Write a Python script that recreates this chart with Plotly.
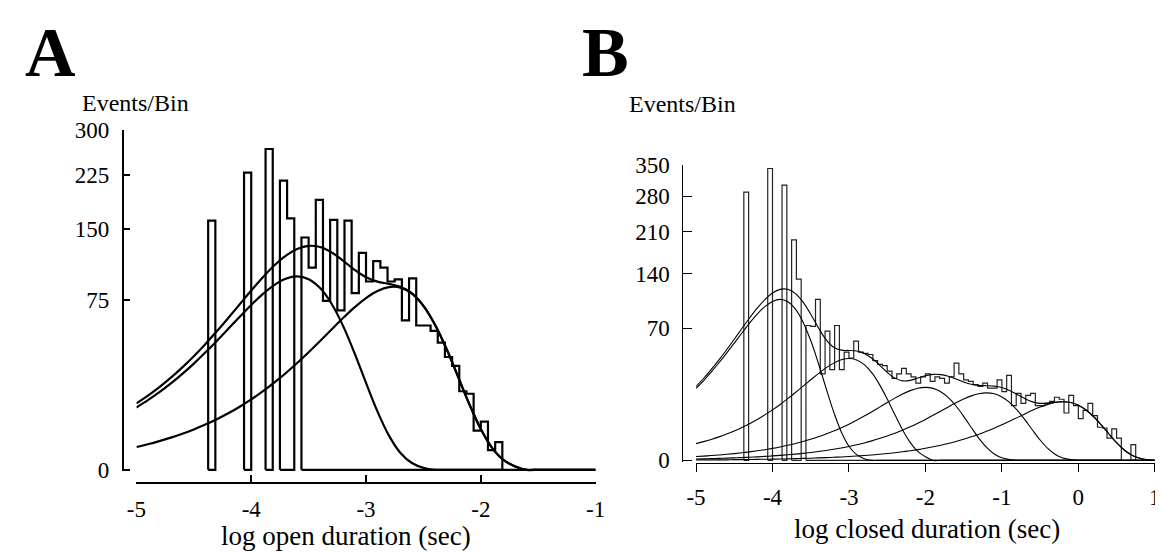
import numpy as np
import plotly.graph_objects as go

W, H = 1163, 552
SERIF = "Liberation Serif"
BIN_WIDTH = 1 / 16  # histogram bins are 1/16 of a decade

# ---- A: open durations -------------------------------------------------
open_first_bin = -4.375
open_counts = [161, 0, 0, 0, 0, 229, 0, 0, 267, 0, 217, 164, 0,
               140, 106, 189, 74, 162, 66, 161, 81, 122, 92, 113, 106,
               92, 94, 58, 95, 54, 54, 50, 42, 33, 28, 16, 15, 4, 6, 1, 2]

open_fit_x = [-5.0, -4.9, -4.8, -4.7, -4.6, -4.5, -4.4, -4.3, -4.2, -4.1,
              -4.0, -3.9, -3.8, -3.7, -3.6, -3.5, -3.4, -3.3, -3.2, -3.1,
              -3.0, -2.9, -2.8, -2.7, -2.6, -2.5, -2.4, -2.3, -2.2, -2.1,
              -2.0, -1.9, -1.8, -1.7, -1.6, -1.5, -1.4, -1.3, -1.2, -1.1, -1.0]
open_fast = [10.09, 12.57, 15.62, 19.34, 23.86, 29.27, 35.67, 43.10, 51.53, 60.77,
             70.50, 80.06, 88.51, 94.62, 97.00, 94.26, 85.66, 71.53, 53.73, 35.31,
             19.59, 8.80, 3.03, 0.74, 0.12, 0.01, 0, 0, 0, 0,
             0, 0, 0, 0, 0, 0, 0, 0, 0, 0, 0]
open_slow = [1.35, 1.70, 2.14, 2.68, 3.37, 4.23, 5.30, 6.63, 8.28, 10.33,
             12.85, 15.93, 19.69, 24.20, 29.58, 35.88, 43.08, 51.12, 59.72, 68.44,
             76.54, 83.02, 86.64, 86.14, 80.55, 69.76, 54.81, 38.14, 22.75, 11.19,
             4.31, 1.22, 0.24, 0.03, 0, 0, 0, 0, 0, 0, 0]
open_total = [11.44, 14.27, 17.76, 22.02, 27.23, 33.50, 40.97, 49.73, 59.81, 71.10,
              83.35, 95.99, 108.20, 118.82, 126.58, 130.14, 128.74, 122.65, 113.45, 103.75,
              96.13, 91.82, 89.67, 86.88, 80.67, 69.77, 54.81, 38.14, 22.75, 11.19,
              4.31, 1.22, 0.24, 0.03, 0, 0, 0, 0, 0, 0, 0]
open_xticks = [-5, -4, -3, -2, -1]
open_yticks = [0, 75, 150, 225, 300]

# ---- B: closed durations -----------------------------------------------
closed_first_bin = -4.375
closed_counts = [289, 0, 0, 0, 0, 342, 0, 0, 304, 0, 195, 132, 0,
                 73, 72, 104, 30, 67, 33, 73, 33, 47, 42, 57, 47, 46, 45, 40, 37,
                 36, 32, 27, 30, 34, 30, 28, 24, 28, 30, 25, 28, 27, 24, 28, 38,
                 30, 26, 25, 23, 22, 24, 21, 21, 26, 19, 29, 12, 18, 13, 17, 18,
                 12, 12, 13, 14, 16, 15, 9, 17, 12, 7, 10, 13, 8, 4.4, 4.2, 2, 4,
                 2, 0, 0, 1]

closed_fit_x = [-5.0, -4.9, -4.8, -4.7, -4.6, -4.5, -4.4, -4.3, -4.2, -4.1,
                -4.0, -3.9, -3.8, -3.7, -3.6, -3.5, -3.4, -3.3, -3.2, -3.1,
                -3.0, -2.9, -2.8, -2.7, -2.6, -2.5, -2.4, -2.3, -2.2, -2.1,
                -2.0, -1.9, -1.8, -1.7, -1.6, -1.5, -1.4, -1.3, -1.2, -1.1,
                -1.0, -0.9, -0.8, -0.7, -0.6, -0.5, -0.4, -0.3, -0.2, -0.1,
                0.0, 0.1, 0.2, 0.3, 0.4, 0.5, 0.6, 0.7, 0.8, 0.9, 1.0]
closed_c1 = [20.74, 25.58, 31.39, 38.24, 46.21, 55.24, 65.16, 75.59, 85.84, 94.90,
             101.45, 104.00, 101.07, 91.84, 76.69, 57.61, 37.86, 21.01, 9.43, 3.24,
             0.80, 0.13, 0.01, 0, 0, 0, 0, 0, 0, 0,
             0, 0, 0, 0, 0, 0, 0, 0, 0, 0,
             0, 0, 0, 0, 0, 0, 0, 0, 0, 0,
             0, 0, 0, 0, 0, 0, 0, 0, 0, 0, 0]
closed_c2 = [1.12, 1.41, 1.76, 2.21, 2.77, 3.46, 4.33, 5.39, 6.70, 8.30,
             10.23, 12.55, 15.30, 18.48, 22.10, 26.06, 30.23, 34.34, 37.96, 40.58,
             41.60, 40.43, 36.74, 30.68, 23.04, 15.14, 8.40, 3.77, 1.30, 0.32,
             0.05, 0, 0, 0, 0, 0, 0, 0, 0, 0,
             0, 0, 0, 0, 0, 0, 0, 0, 0, 0,
             0, 0, 0, 0, 0, 0, 0, 0, 0, 0, 0]
closed_c3 = [0.058, 0.073, 0.092, 0.116, 0.146, 0.183, 0.231, 0.290, 0.365, 0.458,
             0.576, 0.723, 0.908, 1.138, 1.425, 1.782, 2.226, 2.773, 3.445, 4.267,
             5.264, 6.459, 7.869, 9.508, 11.368, 13.407, 15.554, 17.664, 19.528, 20.876,
             21.40, 20.797, 18.898, 15.780, 11.853, 7.790, 4.323, 1.941, 0.668, 0.164,
             0.026, 0.003, 0, 0, 0, 0, 0, 0, 0, 0,
             0, 0, 0, 0, 0, 0, 0, 0, 0, 0, 0]
closed_c4 = [0.008, 0.010, 0.013, 0.016, 0.020, 0.025, 0.031, 0.040, 0.050, 0.063,
             0.079, 0.099, 0.125, 0.157, 0.197, 0.248, 0.312, 0.392, 0.493, 0.618,
             0.776, 0.973, 1.219, 1.524, 1.903, 2.372, 2.946, 3.649, 4.502, 5.523,
             6.729, 8.131, 9.721, 11.465, 13.300, 15.105, 16.699, 17.852, 18.30, 17.784,
             16.161, 13.494, 10.136, 6.661, 3.697, 1.660, 0.571, 0.140, 0.023, 0.002,
             0, 0, 0, 0, 0, 0, 0, 0, 0, 0, 0]
closed_c5 = [0.001, 0.001, 0.001, 0.001, 0.001, 0.002, 0.002, 0.003, 0.004, 0.005,
             0.006, 0.007, 0.009, 0.012, 0.015, 0.019, 0.024, 0.030, 0.038, 0.047,
             0.059, 0.075, 0.094, 0.118, 0.149, 0.187, 0.235, 0.296, 0.371, 0.466,
             0.585, 0.734, 0.919, 1.149, 1.435, 1.789, 2.222, 2.752, 3.395, 4.165,
             5.074, 6.131, 7.331, 8.646, 10.030, 11.391, 12.593, 13.462, 13.80, 13.411,
             12.187, 10.176, 7.644, 5.023, 2.788, 1.252, 0.431, 0.106, 0.017, 0.002, 0.0]
closed_total = [21.93, 27.07, 33.26, 40.58, 49.15, 58.91, 69.75, 81.31, 92.96, 103.73,
                112.34, 117.38, 117.41, 111.63, 100.43, 85.72, 70.65, 58.55, 51.37, 48.75,
                48.50, 48.07, 45.93, 41.83, 36.46, 31.11, 27.14, 25.38, 25.70, 27.19,
                28.76, 29.66, 29.54, 28.39, 26.59, 24.68, 23.24, 22.55, 22.36, 22.11,
                21.26, 19.63, 17.47, 15.31, 13.73, 13.05, 13.16, 13.60, 13.82, 13.41,
                12.19, 10.18, 7.64, 5.02, 2.79, 1.25, 0.43, 0.11, 0.02, 0.0, 0.0]
closed_xticks = [-5, -4, -3, -2, -1, 0, 1]
closed_yticks = [0, 70, 140, 210, 280, 350]


def sq(values):
    # square-root ordinate, as in the original log-binned histograms
    return [None if v is None else float(np.sqrt(v)) for v in values]


def outline(first_bin, counts):
    """Step outline of each run of non-empty bins, closed along zero."""
    xs, ys = [], []
    n = len(counts)
    i = 0
    while i < n:
        if counts[i] == 0:
            i += 1
            continue
        j = i
        while j < n and counts[j] > 0:
            j += 1
        left = first_bin + i * BIN_WIDTH
        xs.append(left)
        ys.append(0)
        for k in range(i, j):
            lo = first_bin + k * BIN_WIDTH
            xs += [lo, lo + BIN_WIDTH]
            ys += [counts[k], counts[k]]
        xs += [first_bin + j * BIN_WIDTH, left, None]
        ys += [0, 0, None]
        i = j
    return xs, sq(ys)


def px_x(v):
    return v / W


def px_y(v):
    return 1 - v / H


fig = go.Figure()

# panel A
hx, hy = outline(open_first_bin, open_counts)
fig.add_trace(go.Scatter(x=hx, y=hy, mode="lines", line=dict(color="black", width=2.2),
                         xaxis="x", yaxis="y", hoverinfo="skip"))
for comp in (open_fast, open_slow, open_total):
    fig.add_trace(go.Scatter(x=open_fit_x, y=sq(comp), mode="lines",
                             line=dict(color="black", width=2.2, shape="spline", smoothing=1),
                             xaxis="x", yaxis="y"))

# panel B
hx, hy = outline(closed_first_bin, closed_counts)
fig.add_trace(go.Scatter(x=hx, y=hy, mode="lines", line=dict(color="#222", width=1.2),
                         xaxis="x2", yaxis="y2", hoverinfo="skip"))
for comp in (closed_c1, closed_c2, closed_c3, closed_c4, closed_c5, closed_total):
    fig.add_trace(go.Scatter(x=closed_fit_x, y=sq(comp), mode="lines",
                             line=dict(color="black", width=1.1, shape="spline", smoothing=1),
                             xaxis="x2", yaxis="y2"))

tick_font = dict(family=SERIF, size=23, color="black")

fig.update_layout(
    width=W, height=H,
    margin=dict(l=0, r=0, t=0, b=0),
    paper_bgcolor="white", plot_bgcolor="white",
    showlegend=False,
    font=dict(family=SERIF, color="black"),
    xaxis=dict(domain=[px_x(120.5), px_x(587.7)], range=[-5, -1], anchor="free",
               position=px_y(483.3), showline=True, linecolor="black", linewidth=2,
               ticks="inside", ticklen=7, tickwidth=2, tickcolor="black",
               tickvals=open_xticks, ticktext=[str(t) for t in open_xticks],
               tickfont=tick_font, ticklabelstandoff=5,
               showgrid=False, zeroline=False),
    yaxis=dict(domain=[px_y(471.0), px_y(114.5)], range=[-0.08, np.sqrt(300)], anchor="free",
               position=px_x(106.7), showline=True, linecolor="black", linewidth=2,
               ticks="inside", ticklen=6, tickwidth=2, tickcolor="black",
               tickvals=sq(open_yticks), ticktext=[str(t) for t in open_yticks],
               tickfont=tick_font, ticklabelstandoff=8,
               showgrid=False, zeroline=False),
    xaxis2=dict(domain=[px_x(689.9), px_x(1156.7)], range=[-5, 1], anchor="free",
                position=px_y(462), showline=True, linecolor="black", linewidth=1,
                ticks="outside", ticklen=8, tickwidth=1, tickcolor="black",
                tickvals=closed_xticks, ticktext=[str(t) for t in closed_xticks],
                tickfont=tick_font, ticklabelstandoff=6,
                showgrid=False, zeroline=False),
    yaxis2=dict(domain=[px_y(461.15), px_y(151.4)], range=[-0.1, np.sqrt(350)], anchor="free",
                position=px_x(676), showline=True, linecolor="black", linewidth=1,
                ticks="inside", ticklen=9, tickwidth=1, tickcolor="black",
                tickvals=sq(closed_yticks), ticktext=[str(t) for t in closed_yticks],
                tickfont=tick_font, ticklabelstandoff=8,
                showgrid=False, zeroline=False),
)

labels = [
    ("A", 33, 34, 70, True),
    ("B", 598, 34, 70, True),
    ("Events/Bin", 120, 87, 24, False),
    ("Events/Bin", 676, 88, 24, False),
    ("log open duration (sec)", 334, 538, 27, False),
    ("log closed duration (sec)", 925, 531, 27, False),
]
for text, x, y, size, bold in labels:
    fig.add_annotation(text=f"<b>{text}</b>" if bold else text,
                       x=px_x(x), y=px_y(y), xref="paper", yref="paper",
                       xanchor="center", yanchor="middle", showarrow=False,
                       font=dict(family=SERIF, size=size, color="black"))

fig.write_html("out.html")
